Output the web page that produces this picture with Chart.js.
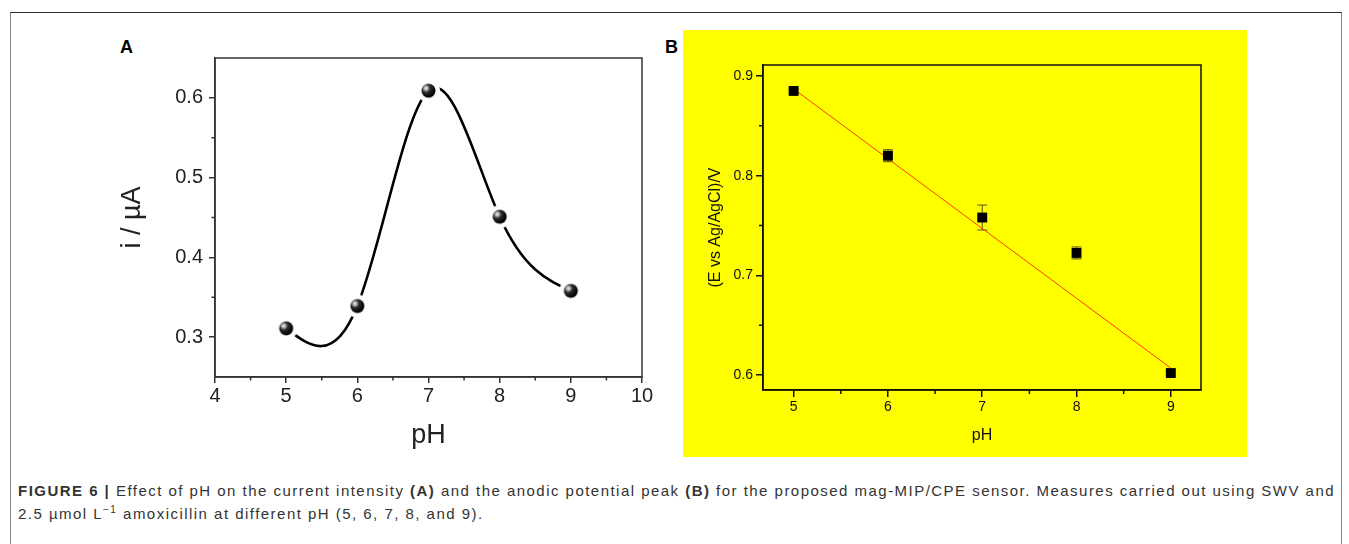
<!DOCTYPE html>
<html>
<head>
<meta charset="utf-8">
<script src="https://cdn.jsdelivr.net/npm/chart.js@4.4.0/dist/chart.umd.min.js"></script>
<style>
  html, body { margin: 0; padding: 0; background: #fff; }
  body { width: 1349px; height: 544px; position: relative; overflow: hidden; font-family: "Liberation Sans", Arial, sans-serif; }
  .frame { position: absolute; left: 10px; top: 12px; width: 1330px; height: 540px; border-top: 1px solid #333; border-left: 1px solid #888; border-right: 1px solid #888; }
  .tag { position: absolute; font-weight: bold; font-size: 18px; color: #000; }
  #wrapA { position: absolute; left: 100px; top: 30px; width: 580px; height: 440px; }
  #wrapB { position: absolute; left: 683px; top: 30px; width: 564px; height: 427px; background: #ffff00; }
  .caption { position: absolute; left: 18px; font-size: 15px; line-height: 20px; color: #333; white-space: nowrap; }
  .caption sup { font-size: 10px; line-height: 0; }
</style>
</head>
<body>
<div class="frame"></div>
<div class="tag" style="left:120px; top:37px;">A</div>
<div class="tag" style="left:665px; top:37px;">B</div>
<div id="wrapA"><canvas id="chartA" width="580" height="440"></canvas></div>
<div id="wrapB"><canvas id="chartB" width="564" height="427"></canvas></div>
<div class="caption" id="cap1" style="top:481px;"><b>FIGURE 6 |</b> Effect of pH on the current intensity <b>(A)</b> and the anodic potential peak <b>(B)</b> for the proposed mag-MIP/CPE sensor. Measures carried out using SWV and</div>
<div class="caption" id="cap2" style="top:504px;">2.5 µmol L<sup>−1</sup> amoxicillin at different pH (5, 6, 7, 8, and 9).</div>
<script>
// pH values shared by both panels
const phValues = [5, 6, 7, 8, 9];

// panel A: peak current (µA)
const currentA = [0.311, 0.339, 0.609, 0.451, 0.358];
const xTicksA = [4, 5, 6, 7, 8, 9, 10];
const yTicksA = [0.3, 0.4, 0.5, 0.6];
const xMinorA = [4.5, 5.5, 6.5, 7.5, 8.5, 9.5];
const yMinorA = [0.35, 0.45, 0.55];

// panel B: peak potential (V vs Ag/AgCl) with error, plus fitted line
const potentialB = [0.885, 0.820, 0.758, 0.7225, 0.602];
const potentialErrB = [0.002, 0.006, 0.0125, 0.006, 0.002];
const fitXB = [5, 9];
const fitYB = [0.887, 0.607];
const xTicksB = [5, 6, 7, 8, 9];
const yTicksB = [0.6, 0.7, 0.8, 0.9];
const xMinorB = [5.5, 6.5, 7.5, 8.5];
const yMinorB = [0.65, 0.75, 0.85];

const FONT = '"Liberation Sans", Arial, sans-serif';

// box around the plot area + short minor ticks
const boxAndMinor = {
  id: 'boxAndMinor',
  afterDraw(chart, args, opts) {
    const { ctx, chartArea: a, scales } = chart;
    ctx.save();
    ctx.strokeStyle = opts.color;
    ctx.lineWidth = opts.width;
    ctx.strokeRect(a.left, a.top, a.right - a.left, a.bottom - a.top);
    ctx.beginPath();
    opts.minorX.forEach(v => {
      const x = scales.x.getPixelForValue(v);
      ctx.moveTo(x, a.bottom);
      ctx.lineTo(x, a.bottom + opts.len);
    });
    opts.minorY.forEach(v => {
      const y = scales.y.getPixelForValue(v);
      ctx.moveTo(a.left, y);
      ctx.lineTo(a.left - opts.len, y);
    });
    ctx.stroke();
    ctx.restore();
  }
};

// natural cubic spline through the points of dataset 0
const splineCurve = {
  id: 'splineCurve',
  beforeDatasetsDraw(chart, args, opts) {
    const pts = chart.data.datasets[0].data;
    const n = pts.length;
    const xs = pts.map(p => p.x), ys = pts.map(p => p.y);
    const h = [];
    for (let i = 0; i < n - 1; i++) h.push(xs[i + 1] - xs[i]);
    // tridiagonal solve for second derivatives, M[0] = M[n-1] = 0
    const M = new Array(n).fill(0);
    const a = [], b = [], c = [], d = [];
    for (let i = 1; i < n - 1; i++) {
      a.push(h[i - 1]);
      b.push(2 * (h[i - 1] + h[i]));
      c.push(h[i]);
      d.push(6 * ((ys[i + 1] - ys[i]) / h[i] - (ys[i] - ys[i - 1]) / h[i - 1]));
    }
    const m = b.length;
    for (let i = 1; i < m; i++) {
      const w = a[i] / b[i - 1];
      b[i] -= w * c[i - 1];
      d[i] -= w * d[i - 1];
    }
    const sol = new Array(m);
    sol[m - 1] = d[m - 1] / b[m - 1];
    for (let i = m - 2; i >= 0; i--) sol[i] = (d[i] - c[i] * sol[i + 1]) / b[i];
    for (let i = 0; i < m; i++) M[i + 1] = sol[i];

    const sx = chart.scales.x, sy = chart.scales.y;
    const px = v => sx.getPixelForValue(v), py = v => sy.getPixelForValue(v);
    const ctx = chart.ctx;
    ctx.save();
    ctx.strokeStyle = opts.color;
    ctx.lineWidth = opts.width;
    ctx.beginPath();
    ctx.moveTo(px(xs[0]), py(ys[0]));
    for (let i = 0; i < n - 1; i++) {
      const hi = h[i];
      const slope = (ys[i + 1] - ys[i]) / hi;
      const d0 = slope - hi * (2 * M[i] + M[i + 1]) / 6;
      const d1 = slope + hi * (M[i] + 2 * M[i + 1]) / 6;
      ctx.bezierCurveTo(
        px(xs[i] + hi / 3), py(ys[i] + d0 * hi / 3),
        px(xs[i + 1] - hi / 3), py(ys[i + 1] - d1 * hi / 3),
        px(xs[i + 1]), py(ys[i + 1])
      );
    }
    ctx.stroke();
    ctx.restore();
  }
};

// vertical error bars with caps for dataset 0
const errorBars = {
  id: 'errorBars',
  beforeDatasetsDraw(chart, args, opts) {
    const { ctx, scales } = chart;
    const pts = chart.data.datasets[0].data;
    ctx.save();
    ctx.strokeStyle = opts.color;
    ctx.lineWidth = opts.width;
    ctx.beginPath();
    pts.forEach((p, i) => {
      const x = scales.x.getPixelForValue(p.x);
      const y1 = scales.y.getPixelForValue(p.y + opts.errors[i]);
      const y2 = scales.y.getPixelForValue(p.y - opts.errors[i]);
      ctx.moveTo(x, y1); ctx.lineTo(x, y2);
      ctx.moveTo(x - opts.cap, y1); ctx.lineTo(x + opts.cap, y1);
      ctx.moveTo(x - opts.cap, y2); ctx.lineTo(x + opts.cap, y2);
    });
    ctx.stroke();
    ctx.restore();
  }
};

// shaded ball marker with a white halo that breaks the curve
function ballMarker(r, halo) {
  const size = Math.ceil(2 * (r + halo)) + 2;
  const cv = document.createElement('canvas');
  cv.width = cv.height = size;
  const g = cv.getContext('2d');
  const m = size / 2;
  g.fillStyle = '#fff';
  g.beginPath(); g.arc(m, m, r + halo, 0, Math.PI * 2); g.fill();
  const hx = m - r * 0.35, hy = m - r * 0.35;
  const grad = g.createRadialGradient(hx, hy, 0, hx, hy, r * 1.35);
  grad.addColorStop(0, '#ffffff');
  grad.addColorStop(0.18, '#b5b5b5');
  grad.addColorStop(0.45, '#2a2a2a');
  grad.addColorStop(1, '#000000');
  g.fillStyle = grad;
  g.beginPath(); g.arc(m, m, r, 0, Math.PI * 2); g.fill();
  return cv;
}

function fixedTicks(values) {
  return scale => { scale.ticks = values.map(v => ({ value: v })); };
}

const toPoints = (xs, ys) => xs.map((x, i) => ({ x: x, y: ys[i] }));

// ---- panel A ----
new Chart(document.getElementById('chartA'), {
  type: 'scatter',
  data: {
    datasets: [{
      data: toPoints(phValues, currentA),
      pointStyle: ballMarker(7, 4.5),
      showLine: false
    }]
  },
  options: {
    responsive: false,
    animation: false,
    events: [],
    layout: { padding: { left: 0, top: 28, right: 38, bottom: 0 } },
    plugins: {
      legend: { display: false },
      tooltip: { enabled: false },
      splineCurve: { color: '#000', width: 2.6 },
      boxAndMinor: { color: '#333', width: 1.5, len: 3.5, minorX: xMinorA, minorY: yMinorA }
    },
    scales: {
      x: {
        type: 'linear', min: 4, max: 10,
        afterBuildTicks: fixedTicks(xTicksA),
        afterFit: s => { s.height = 93; },
        border: { color: '#333', width: 1.5 },
        grid: { drawOnChartArea: false, tickLength: 6, color: '#333', lineWidth: 1.5 },
        ticks: { color: '#222', padding: 1, maxRotation: 0, autoSkip: false, font: { family: FONT, size: 20 } },
        title: { display: true, text: 'pH', color: '#222', padding: { top: 0, bottom: 18 }, font: { family: FONT, size: 27 } }
      },
      y: {
        type: 'linear', min: 0.25, max: 0.65,
        afterBuildTicks: fixedTicks(yTicksA),
        afterFit: s => { s.width = 115; },
        border: { color: '#333', width: 1.5 },
        grid: { drawOnChartArea: false, tickLength: 6, color: '#333', lineWidth: 1.5 },
        ticks: { color: '#222', padding: 6, autoSkip: false, font: { family: FONT, size: 20 }, callback: v => v.toFixed(1) },
        title: { display: true, text: 'i / µA', color: '#222', padding: { top: 16, bottom: 0 }, font: { family: FONT, size: 27 } }
      }
    }
  },
  plugins: [splineCurve, boxAndMinor]
});

// ---- panel B ----
new Chart(document.getElementById('chartB'), {
  type: 'scatter',
  data: {
    datasets: [
      {
        data: toPoints(phValues, potentialB),
        pointStyle: 'rect',
        pointRadius: 7,
        backgroundColor: '#000',
        borderColor: '#000',
        borderWidth: 0,
        showLine: false,
        order: 0
      },
      {
        data: toPoints(fitXB, fitYB),
        showLine: true,
        borderColor: '#ff3a00',
        borderWidth: 1,
        pointRadius: 0,
        order: 1
      }
    ]
  },
  options: {
    responsive: false,
    animation: false,
    events: [],
    layout: { padding: { left: 0, top: 35, right: 46, bottom: 0 } },
    plugins: {
      legend: { display: false },
      tooltip: { enabled: false },
      errorBars: { color: '#55551a', width: 1, cap: 5, errors: potentialErrB },
      boxAndMinor: { color: '#111', width: 1.5, len: 4, minorX: xMinorB, minorY: yMinorB }
    },
    scales: {
      x: {
        type: 'linear', min: 4.675, max: 9.32,
        afterBuildTicks: fixedTicks(xTicksB),
        afterFit: s => { s.height = 67; },
        border: { color: '#111', width: 1.5 },
        grid: { drawOnChartArea: false, tickLength: 7, color: '#111', lineWidth: 1.5 },
        ticks: { color: '#111', padding: 2, maxRotation: 0, autoSkip: false, font: { family: FONT, size: 14 } },
        title: { display: true, text: 'pH', color: '#111', padding: { top: 0, bottom: 12 }, font: { family: FONT, size: 16 } }
      },
      y: {
        type: 'linear', min: 0.585, max: 0.911,
        afterBuildTicks: fixedTicks(yTicksB),
        afterFit: s => { s.width = 80; },
        border: { color: '#111', width: 1.5 },
        grid: { drawOnChartArea: false, tickLength: 7, color: '#111', lineWidth: 1.5 },
        ticks: { color: '#111', padding: 3, autoSkip: false, font: { family: FONT, size: 14 }, callback: v => v.toFixed(1) },
        title: { display: true, text: '(E vs Ag/AgCl)/V', color: '#111', padding: { top: 23, bottom: 0 }, font: { family: FONT, size: 16 } }
      }
    }
  },
  plugins: [errorBars, boxAndMinor]
});

// spread the caption lines over the full frame width
(function () {
  const cap1 = document.getElementById('cap1');
  const cap2 = document.getElementById('cap2');
  const target = 1317;
  const natural = cap1.getBoundingClientRect().width;
  const chars = cap1.textContent.length;
  const ls = Math.max(0, (target - natural) / chars);
  cap1.style.letterSpacing = ls + 'px';
  cap2.style.letterSpacing = ls + 'px';
})();
</script>
</body>
</html>
